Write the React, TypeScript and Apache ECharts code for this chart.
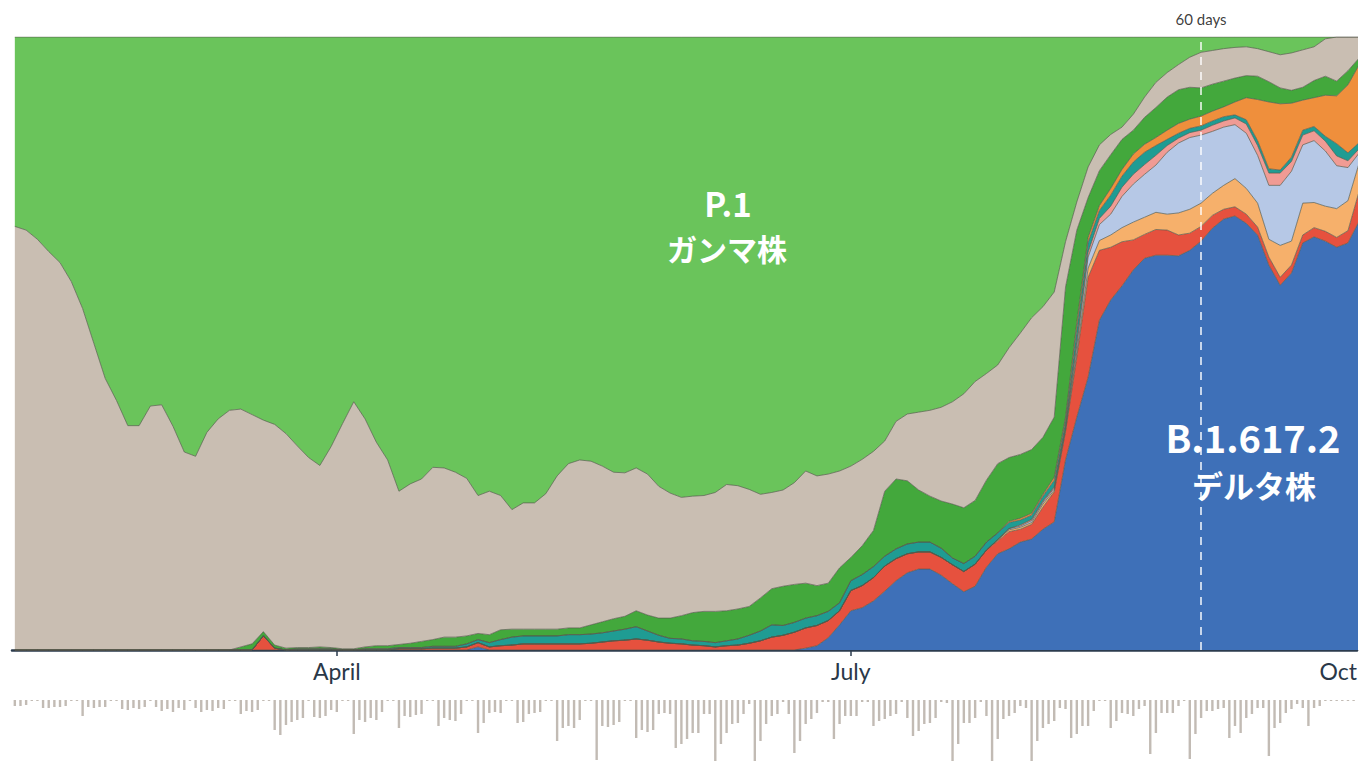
import React, { useEffect, useRef } from "react";
import * as echarts from "echarts";

// x values are day-of-year 2021 (0 = Jan 1); area samples every 2 days from day 33
const areaDays = Array.from({ length: 120 }, (_, i) => 33 + 2 * i);

// lineage shares (% of sequences), bottom to top
const delta = [
  0,0,0,0,0,0,0,0,0,0, 0,0,0,0,0,0,0,0,0,0, 0,0,0,0,0,0,0,0,0,0, 0,0,0,0,0,0,0,0,0,0,
  0,0.5,0,0,0,0,0,0,0,0, 0,0,0,0,0,0,0,0,0,0, 0,0,0,0,0,0,0,0,0,0,
  0.3,0.7,2.0,4.1,6.4,6.9,8.0,9.6,11.3,12.6,
  13.2,13.2,12.2,10.8,9.5,10.4,13.5,15.7,16.5,17.6,
  18.1,19.7,20.9,31.0,38.0,44.5,53.8,57.1,59.4,62.0,
  63.9,64.4,64.4,64.3,65.2,66.7,68.8,70.3,70.8,69.6,
  67.7,62.8,59.5,61.5,66.4,67.4,66.7,65.7,66.4,70.0,
];
const red = [
  0,0,0,0,0,0,0,0,0,0, 0,0,0,0,0,0,0,0,0,0,
  0,0,2.3,0.3,0,0,0,0,0,0,
  0,0,0,0,0.2,0.2,0.2,0.3,0.3,0.3,
  0.5,0.7,0.5,0.7,0.8,1.0,1.0,1.0,1.0,1.0,
  1.0,1.1,1.3,1.5,1.6,1.8,1.6,1.3,1.1,1.0,
  0.8,0.7,0.5,0.7,0.8,1.1,1.5,2.1,2.4,2.9,
  3.3,3.3,2.8,2.3,3.3,3.6,3.8,4.1,3.6,3.1,
  2.8,2.8,2.9,3.1,3.3,3.6,2.8,2.1,2.8,2.1,
  2.4,3.6,4.9,4.6,9.8,16.3,11.4,8.6,7.2,4.9,
  3.9,4.2,4.1,3.4,2.8,2.4,2.1,1.6,1.5,1.5,
  1.3,1.3,1.3,1.3,1.3,1.5,1.6,1.6,2.0,4.9,
];
const lightOrange = [
  0,0,0,0,0,0,0,0,0,0, 0,0,0,0,0,0,0,0,0,0, 0,0,0,0,0,0,0,0,0,0, 0,0,0,0,0,0,0,0,0,0,
  0,0,0,0,0,0,0,0,0,0, 0,0,0,0,0,0,0,0,0,0, 0,0,0,0,0,0,0,0,0,0, 0,0,0,0,0,0,0,0,0,0,
  0,0,0,0,0,0,0,0.2,0.3,0.3,
  0.3,0.5,0.3,0.3,0.8,1.5,1.6,2.0,2.3,2.9,
  2.8,2.8,2.6,3.6,3.9,3.8,3.6,3.9,4.6,4.2,
  3.9,2.9,5.2,3.9,5.2,4.1,4.1,4.7,4.9,4.6,
];
const lightBlue = [
  0,0,0,0,0,0,0,0,0,0, 0,0,0,0,0,0,0,0,0,0, 0,0,0,0,0,0,0,0,0,0, 0,0,0,0,0,0,0,0,0,0,
  0,0,0,0,0,0,0,0,0,0, 0,0,0,0,0,0,0,0,0,0, 0,0,0,0,0,0,0,0,0,0, 0,0,0,0,0,0,0,0,0,0,
  0,0,0,0,0,0,0,0,0.2,0.2,
  0.3,0.3,0.3,0.3,1.1,1.8,2.6,3.4,5.1,6.2,
  7.0,7.7,10.1,11.4,11.7,11.1,10.1,9.5,8.8,9.0,
  7.8,8.8,9.8,11.4,9.5,10.1,9.0,7.0,5.4,1.6,
];
const pink = [
  0,0,0,0,0,0,0,0,0,0, 0,0,0,0,0,0,0,0,0,0, 0,0,0,0,0,0,0,0,0,0, 0,0,0,0,0,0,0,0,0,0,
  0,0,0,0,0,0,0,0,0,0, 0,0,0,0,0,0,0,0,0,0, 0,0,0,0,0,0,0,0,0,0, 0,0,0,0,0,0,0,0,0,0,
  0,0,0,0,0,0,0,0,0,0.2,
  0.2,0.2,0.2,0.3,0.7,0.8,1.0,1.3,1.5,1.6,
  1.6,1.6,1.1,0.8,0.8,0.8,1.0,1.0,1.1,1.5,
  1.6,2.0,2.0,1.6,1.6,1.6,1.6,1.6,1.1,0.7,
];
const teal = [
  0,0,0,0,0,0,0,0,0,0, 0,0,0,0,0,0,0,0,0,0,
  0,0,0,0,0,0.2,0.2,0.2,0.2,0,
  0,0.2,0.2,0.2,0.2,0.2,0.2,0.3,0.3,0.3,
  0.5,0.5,0.7,1.0,1.3,1.3,1.3,1.3,1.3,1.5,
  1.5,1.5,1.5,1.6,1.8,2.0,1.5,1.1,0.8,0.8,
  0.7,0.7,0.7,0.8,1.0,1.3,1.6,2.0,1.6,1.6,
  1.6,1.6,1.5,1.3,1.6,1.8,1.8,1.6,1.6,1.6,
  1.6,1.6,1.5,1.1,1.3,1.3,1.3,1.1,1.0,0.8,
  0.7,0.8,1.1,1.0,2.0,1.6,1.3,1.8,1.8,2.0,
  2.0,1.6,1.0,0.8,0.7,0.7,0.7,0.7,0.5,0.7,
  0.8,0.7,0.5,0.7,0.8,0.7,0.8,2.0,1.3,1.0,
];
const orange = [
  0,0,0,0,0,0,0,0,0,0, 0,0,0,0,0,0,0,0,0,0, 0,0,0,0,0,0,0,0,0,0, 0,0,0,0,0,0,0,0,0,0,
  0,0,0,0,0,0,0,0,0,0, 0,0,0,0,0,0,0,0,0,0, 0,0,0,0,0,0,0,0,0,0, 0,0,0,0,0,0,0,0,0,0,
  0,0,0,0,0,0,0,0,0.2,0.3,
  0.3,0.3,0.5,0.5,1.1,0.8,0.8,1.1,1.1,1.3,
  1.3,1.3,1.5,1.6,1.5,1.6,1.6,1.6,2.1,3.6,
  6.7,10.9,10.8,8.8,4.9,4.7,6.7,7.8,11.1,12.7,
];
const darkGreen = [
  0,0,0,0,0,0,0,0,0,0, 0,0,0,0,0,0,0,0,0,0,
  0.5,1.0,0.7,0.5,0.3,0.2,0.2,0.3,0.2,0.2,
  0.2,0.3,0.5,0.5,0.5,0.7,1.0,1.1,1.5,1.5,
  1.3,1.0,1.3,1.6,1.3,1.1,1.1,1.1,1.1,1.1,
  1.1,1.5,1.8,2.0,2.1,2.6,2.6,2.8,3.3,3.8,
  4.6,4.9,5.1,4.9,4.9,4.7,5.4,5.9,6.4,6.2,
  5.7,4.9,4.6,5.7,3.8,4.7,5.9,10.6,11.4,10.3,
  8.5,7.5,7.7,8.8,9.1,9.1,10.1,11.3,10.4,10.4,
  10.4,9.3,9.8,21.2,15.0,6.5,5.7,5.5,4.9,3.9,
  4.4,4.9,5.4,5.5,5.2,4.6,4.4,4.2,3.9,3.6,
  3.8,3.3,2.6,2.1,2.1,2.8,3.1,2.4,2.3,1.1,
];
const others = [
  69.1,68.5,67.0,65.0,63.2,60.1,55.7,50.0,44.3,40.7,
  36.6,36.6,39.8,40.0,36.5,32.3,31.6,35.5,37.7,39.1,
  38.8,37.4,34.5,36.0,35.0,32.9,31.0,29.6,32.8,36.7,
  40.3,37.2,33.2,30.3,25.0,26.0,26.5,28.1,27.6,26.9,
  25.7,22.5,23.4,21.9,19.5,20.6,20.6,22.1,25.0,26.8,
  27.4,26.7,25.4,23.9,23.4,23.3,23.0,21.5,20.4,19.3,
  19.0,18.9,19.4,20.6,20.1,19.1,16.9,15.7,15.7,16.6,
  18.3,17.9,17.8,15.8,14.9,14.1,12.9,8.2,9.4,10.9,
  12.7,14.0,15.3,16.7,18.6,19.4,17.4,16.1,17.9,19.8,
  21.5,21.3,20.4,7.4,4.6,5.0,4.2,3.3,2.0,2.6,
  3.3,4.1,4.0,4.1,4.9,5.8,5.5,5.3,5.0,4.7,
  4.5,4.9,5.4,6.1,6.1,5.5,6.1,7.2,5.5,3.4,
];
const gamma = [
  30.9,31.5,33.0,35.0,36.8,39.9,44.3,50.0,55.7,59.3,
  63.4,63.4,60.2,60.0,63.5,67.7,68.4,64.5,62.3,60.9,
  60.7,61.6,62.5,63.2,64.7,66.7,68.6,69.9,66.8,63.1,
  59.5,62.3,66.1,69.0,74.1,72.9,72.1,70.2,70.3,71.0,
  72.0,74.8,74.1,74.8,77.1,76.0,76.0,74.5,71.6,69.6,
  69.0,69.2,70.0,71.0,71.1,70.3,71.3,73.3,74.4,75.1,
  74.9,74.8,74.3,73.0,73.2,73.8,74.6,74.3,73.9,72.7,
  70.8,71.6,71.3,70.8,70.0,68.9,67.6,65.9,62.7,61.5,
  61.2,60.9,60.4,59.5,58.2,56.2,54.9,53.5,50.7,48.3,
  45.8,44.0,41.6,33.4,26.9,21.2,17.6,15.9,14.7,12.6,
  9.8,7.4,5.8,4.5,3.3,2.5,2.2,1.9,1.7,1.6,
  1.9,2.4,2.9,2.6,2.1,1.6,0.3,0,0,0,
];

// daily number of sequenced samples (relative), from day 33
const firstSampleDay = 33;
const sampleCounts = [
  6,6,5,1,1,8,8,7,7,6,1,1,16,7,8,7,7,1,1,9,10,8,9,7,1,7,11,9,12,8,
  10,1,8,12,10,11,8,9,1,1,14,11,12,10,1,1,30,35,25,22,20,18,1,17,18,16,10,12,1,1,
  34,20,22,18,20,12,1,1,28,16,17,15,14,1,1,26,18,20,21,14,1,1,33,23,13,12,13,1,1,23,
  22,14,13,12,1,1,41,28,26,28,20,1,1,60,26,27,25,22,1,1,38,30,32,30,14,13,14,48,44,39,
  33,33,14,14,61,44,33,24,23,14,4,61,41,24,16,14,2,14,53,41,24,19,13,2,2,39,24,16,16,16,
  2,2,26,21,19,16,14,2,18,36,31,24,23,18,2,3,61,44,23,23,18,2,16,61,39,19,16,13,6,8,
  61,41,28,24,21,8,9,38,34,26,26,11,1,1,28,21,13,14,16,9,6,54,33,13,13,13,6,1,59,34,
  18,11,11,9,8,38,26,33,18,14,8,8,56,28,23,13,9,4,8,26,8,6,1,1,1,1,1,1,
];

const monthTicks = [90, 181, 270.6];
const monthLabels = ["April", "July", "Oct"];
const markerDay = 243;
const markerLabel = "60 days";

const seriesDefs = [
  { name: "B.1.617.2", values: delta, color: "#3e70b8" },
  { name: "red", values: red, color: "#e6513e" },
  { name: "lightOrange", values: lightOrange, color: "#f6b06b" },
  { name: "lightBlue", values: lightBlue, color: "#b6c8e6" },
  { name: "pink", values: pink, color: "#f09b94" },
  { name: "teal", values: teal, color: "#1f9c93" },
  { name: "orange", values: orange, color: "#ef8f3c" },
  { name: "darkGreen", values: darkGreen, color: "#43a83c" },
  { name: "others", values: others, color: "#c9beb2" },
  { name: "P.1", values: gamma, color: "#6ac45b" },
];

const X_MIN = 32.5;
const X_MAX = 270.6;

export default function App() {
  const ref = useRef<HTMLDivElement>(null);
  useEffect(() => {
    if (!ref.current) return;
    const chart = echarts.init(ref.current, null, { renderer: "svg" });
    const areaSeries: any[] = seriesDefs.map((s, idx) => ({
      name: s.name,
      type: "line",
      xAxisIndex: 0,
      yAxisIndex: 0,
      stack: "total",
      // share first, day second: ECharts stacks the first numeric column
      encode: { x: 1, y: 0 },
      data: areaDays.map((d, i) => [s.values[i], d]),
      showSymbol: false,
      symbol: "none",
      silent: true,
      lineStyle: { width: 1, color: "rgba(85,90,75,0.7)" },
      areaStyle: { color: s.color, opacity: 1 },
      itemStyle: { color: s.color },
      emphasis: { disabled: true },
      z: 2,
      ...(idx === seriesDefs.length - 1
        ? {
            markLine: {
              silent: true,
              symbol: ["none", "none"],
              data: [{ xAxis: markerDay }],
              lineStyle: { color: "#ffffff", type: [8, 7], width: 1.5, opacity: 0.95 },
              label: {
                show: true,
                position: "end",
                formatter: markerLabel,
                color: "#333",
                fontSize: 15,
                fontFamily: "Lato, 'Open Sans', sans-serif",
                distance: 11,
              },
            },
          }
        : {}),
    }));
    const barSeries = {
      name: "samples",
      type: "bar",
      xAxisIndex: 1,
      yAxisIndex: 1,
      data: sampleCounts.map((v, i) => [firstSampleDay + i, v]),
      barWidth: 2.4,
      itemStyle: { color: "#c2bbb4" },
      silent: true,
    };
    chart.setOption({
      animation: false,
      backgroundColor: "#ffffff",
      grid: [
        { left: 12, right: 6, top: 37, height: 613 },
        { left: 12, right: 6, top: 700, height: 63 },
      ],
      xAxis: [
        {
          type: "value",
          gridIndex: 0,
          min: X_MIN,
          max: X_MAX,
          splitLine: { show: false },
          axisLine: { show: true, lineStyle: { color: "#2b3b4e", width: 2.5 } },
          axisTick: {
            show: true,
            customValues: [monthTicks[0], monthTicks[1]],
            length: 6,
            lineStyle: { color: "#2b3b4e", width: 1.5 },
          },
          axisLabel: {
            show: true,
            customValues: monthTicks,
            formatter: (v: number) => {
              const k = monthTicks.findIndex((t) => Math.abs(t - v) < 0.01);
              return k >= 0 ? monthLabels[k] : "";
            },
            alignMaxLabel: "right",
            color: "#2a3848",
            fontSize: 23,
            fontFamily: "Lato, 'Open Sans', sans-serif",
            margin: 9,
          },
        },
        {
          type: "value",
          gridIndex: 1,
          min: X_MIN,
          max: X_MAX,
          show: false,
          splitLine: { show: false },
        },
      ],
      yAxis: [
        { type: "value", gridIndex: 0, min: 0, max: 100, show: false, splitLine: { show: false } },
        { type: "value", gridIndex: 1, min: 0, max: 63, inverse: true, show: false, splitLine: { show: false } },
      ],
      series: [...areaSeries, barSeries],
      graphic: [
        {
          type: "text",
          x: 728,
          y: 203,
          z: 100,
          style: {
            text: "P.1",
            fill: "#ffffff",
            fontSize: 33,
            fontWeight: "bold",
            fontFamily: "'Noto Sans CJK JP', sans-serif",
            align: "center",
            verticalAlign: "middle",
          },
        },
        {
          type: "text",
          x: 727,
          y: 248,
          z: 100,
          style: {
            text: "ガンマ株",
            fill: "#ffffff",
            fontSize: 30,
            fontWeight: "bold",
            fontFamily: "'Noto Sans CJK JP', sans-serif",
            align: "center",
            verticalAlign: "middle",
          },
        },
        {
          type: "text",
          x: 1253,
          y: 436,
          z: 100,
          style: {
            text: "B.1.617.2",
            fill: "#ffffff",
            fontSize: 38,
            fontWeight: "bold",
            fontFamily: "'Noto Sans CJK JP', sans-serif",
            align: "center",
            verticalAlign: "middle",
          },
        },
        {
          type: "text",
          x: 1254,
          y: 484,
          z: 100,
          style: {
            text: "デルタ株",
            fill: "#ffffff",
            fontSize: 31,
            fontWeight: "bold",
            fontFamily: "'Noto Sans CJK JP', sans-serif",
            align: "center",
            verticalAlign: "middle",
          },
        },
      ],
    });
    return () => chart.dispose();
  }, []);
  return (
    <div
      ref={ref}
      style={{ position: "absolute", left: 0, top: 0, width: 1363, height: 763, background: "#fff" }}
    />
  );
}
